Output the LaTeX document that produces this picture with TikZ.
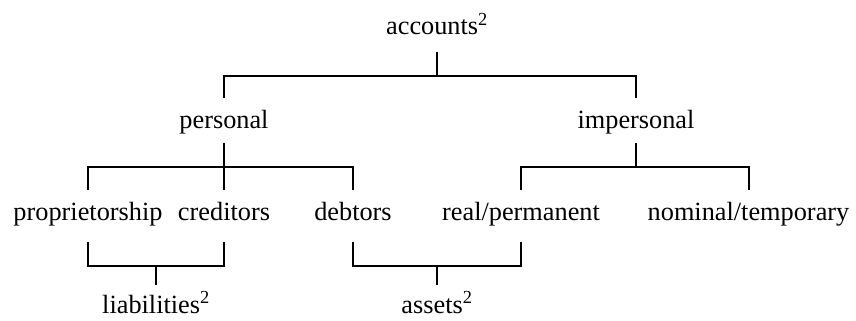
\documentclass[tikz,border=0pt]{standalone}
\usepackage{fontspec}
\setmainfont{Liberation Serif}
\tikzset{
  lbl/.style={inner sep=0pt, outer sep=0pt, anchor=base, text height=30pt, text depth=16pt,
    font=\fontsize{26.3pt}{30pt}\selectfont},
  lowrow/.style={text depth=22pt},
  botrow/.style={text height=28pt},
  conn/.style={line width=2pt}
}
\begin{document}
\begin{tikzpicture}[x=1pt,y=-1pt]
\useasboundingbox (0,0) rectangle (856,321);
% row 1
\node[lbl, text depth=17pt] (acc) at (437,35) {accounts\textsuperscript{2}};
% row 2
\node[lbl, text height=30pt, text depth=15pt] (per) at (224,128) {personal};
\node[lbl, text height=30pt, text depth=15pt] (imp) at (636,128) {impersonal};
% row 3
\node[lbl, lowrow] (prop) at (88,220) {proprietorship};
\node[lbl, lowrow] (cred) at (224,220) {creditors};
\node[lbl, lowrow] (deb) at (353,220) {debtors};
\node[lbl, lowrow] (real) at (521,220) {real/permanent};
\node[lbl, lowrow] (nom) at (748.5,220) {nominal/temporary};
% row 4
\node[lbl, botrow] (liab) at (156,313) {liabilities\textsuperscript{2}};
\node[lbl, botrow] (ast) at (437,313) {assets\textsuperscript{2}};
% connectors
\draw[conn] (acc.south) -- ++(0,24) coordinate (j1);
\draw[conn] (per.north) |- (j1) -| (imp.north);
\draw[conn] (per.south) -- ++(0,24) coordinate (j2);
\draw[conn] (prop.north) |- (j2) -| (deb.north);
\draw[conn] (cred.north) -- (j2);
\draw[conn] (imp.south) -- ++(0,24) coordinate (j3);
\draw[conn] (real.north) |- (j3) -| (nom.north);
\draw[conn] (liab.north) -- ++(0,-19) coordinate (j4);
\draw[conn] (prop.south) |- (j4) -| (cred.south);
\draw[conn] (ast.north) -- ++(0,-19) coordinate (j5);
\draw[conn] (deb.south) |- (j5) -| (real.south);
\end{tikzpicture}
\end{document}
